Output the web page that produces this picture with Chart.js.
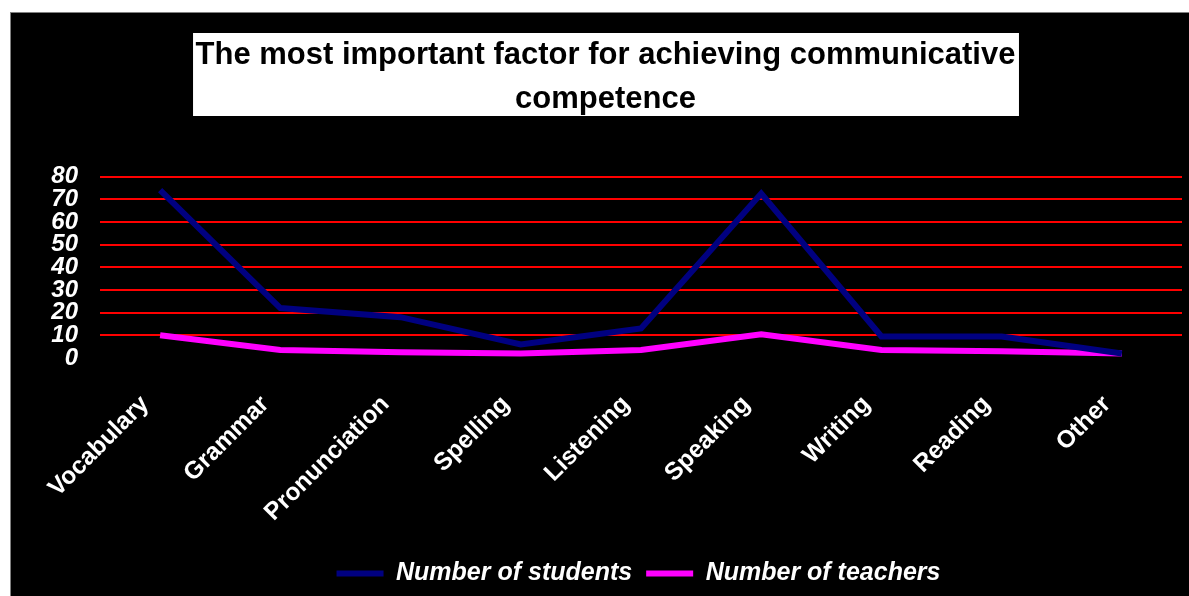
<!DOCTYPE html>
<html>
<head>
<meta charset="utf-8">
<script src="https://cdn.jsdelivr.net/npm/chart.js@4"></script>
<style>
  html, body { margin: 0; padding: 0; background: #fff; }
  #wrap {
    position: absolute; left: 10px; top: 12px;
    width: 1178px; height: 583px;
    border-left: 1px solid #808080; border-top: 1px solid #808080;
    background: #000;
  }
  canvas { display: block; }
</style>
</head>
<body>
<div id="wrap"><canvas id="chart" width="1178" height="583"></canvas></div>
<script>
// Chart data
const categories = ['Vocabulary', 'Grammar', 'Pronunciation', 'Spelling', 'Listening', 'Speaking', 'Writing', 'Reading', 'Other'];
const students = [74, 22, 18, 6, 13, 72.5, 9.5, 9.5, 2];
const teachers = [10, 3.5, 2.5, 2, 3.5, 10.5, 3.5, 3, 2];
const yTicks = [0, 10, 20, 30, 40, 50, 60, 70, 80];
const titleLines = ['The most important factor for achieving communicative', 'competence'];

const FONT = "'Liberation Sans', Arial, sans-serif";

// black background + white box behind the title
const titleBox = {
    id: 'titleBox',
    beforeDraw(chart) {
        const ctx = chart.ctx;
        ctx.save();
        ctx.fillStyle = '#000';
        ctx.fillRect(0, 0, chart.width, chart.height);
        ctx.font = 'bold 31px ' + FONT;
        const w = Math.max(...titleLines.map(s => ctx.measureText(s).width)) + 6;
        const cx = chart.width / 2 + 6;
        ctx.fillStyle = '#fff';
        ctx.fillRect(cx - w / 2, 20, w, 83);
        ctx.restore();
    },
    // legend sits a bit right of centre in the original
    afterLayout(chart) {
        chart.legend.left += 33;
        chart.legend.right += 33;
    }
};

new Chart(document.getElementById('chart'), {
    type: 'line',
    data: {
        labels: categories,
        datasets: [
            {
                label: 'Number of students',
                data: students,
                borderColor: '#000080',
                backgroundColor: '#000080',
                borderWidth: 6,
                pointRadius: 0,
                tension: 0
            },
            {
                label: 'Number of teachers',
                data: teachers,
                borderColor: '#FF00FF',
                backgroundColor: '#FF00FF',
                borderWidth: 6,
                pointRadius: 0,
                tension: 0
            }
        ]
    },
    options: {
        responsive: false,
        animation: false,
        layout: { padding: { left: 18, right: 7, top: 0, bottom: 0 } },
        plugins: {
            tooltip: { enabled: false },
            title: {
                display: true,
                text: titleLines,
                color: '#000',
                font: { family: FONT, size: 31, weight: 'bold', lineHeight: 1.42 },
                padding: { top: 20.5, bottom: 55 }
            },
            legend: {
                position: 'bottom',
                labels: {
                    color: '#fff',
                    boxWidth: 47,
                    boxHeight: 6,
                    padding: 14,
                    font: { family: FONT, size: 25, style: 'italic', weight: 'bold' },
                    generateLabels(chart) {
                        const items = Chart.defaults.plugins.legend.labels.generateLabels(chart);
                        items.forEach(it => { it.lineWidth = 0; });
                        return items;
                    }
                }
            }
        },
        scales: {
            x: {
                offset: true,
                afterFit(axis) { axis.height = 189; },
                grid: { display: false },
                border: { display: false },
                ticks: {
                    color: '#fff',
                    autoSkip: false,
                    minRotation: 45,
                    maxRotation: 45,
                    padding: 24,
                    labelOffset: -15,
                    font: { family: FONT, size: 24.5, weight: 'bold' }
                }
            },
            y: {
                min: 0,
                max: 80,
                afterFit(axis) { axis.width = 71; },
                afterBuildTicks(axis) { axis.ticks = yTicks.map(v => ({ value: v })); },
                grid: {
                    color: c => c.tick && c.tick.value === 0 ? 'rgba(0,0,0,0)' : '#FF0000',
                    lineWidth: 2,
                    drawTicks: false
                },
                border: { display: false },
                ticks: {
                    color: '#fff',
                    autoSkip: false,
                    padding: 22,
                    font: { family: FONT, size: 24, style: 'italic', weight: 'bold' }
                }
            }
        }
    },
    plugins: [titleBox]
});
</script>
</body>
</html>
